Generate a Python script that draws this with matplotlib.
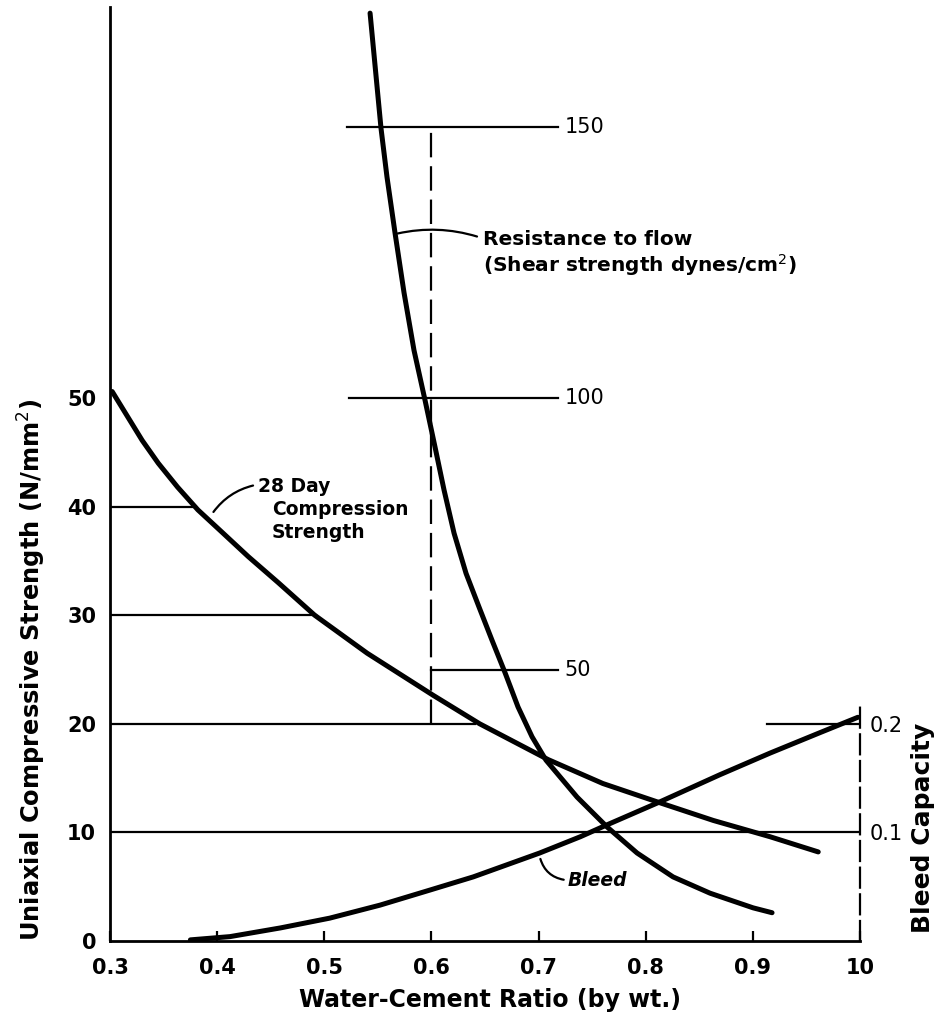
import numpy as np
import matplotlib
matplotlib.use("Agg")
from matplotlib import pyplot as plt

plt.rcParams['font.family'] = ['DejaVu Sans']

# water-cement ratio axis
xticks = [0.3, 0.4, 0.5, 0.6, 0.7, 0.8, 0.9, 1.0]
xticklabels = ['0.3', '0.4', '0.5', '0.6', '0.7', '0.8', '0.9', '10']

# 28 day compression strength (N/mm2)
comp_x = [0.302, 0.330, 0.345, 0.363, 0.382, 0.405, 0.429, 0.457, 0.491,
          0.540, 0.602, 0.645, 0.709, 0.760, 0.811, 0.863, 0.916, 0.961]
comp_y = [50.6, 46.1, 44.0, 41.8, 39.7, 37.6, 35.4, 33.0, 30.0,
          26.5, 22.6, 20.0, 16.7, 14.5, 12.8, 11.1, 9.6, 8.2]

# resistance to flow (shear strength dynes/cm2)
shear_x = [0.5427, 0.5529, 0.5585, 0.5660, 0.5744, 0.5837, 0.5940, 0.6033,
           0.6117, 0.6211, 0.6323, 0.6444, 0.6565, 0.6687, 0.6808, 0.6939, 0.7069,
           0.7359, 0.7639, 0.7919, 0.8255, 0.8600, 0.9002, 0.9179]
shear_y = [170.9, 149.7, 140.7, 130.4, 119.4, 108.8, 99.6, 91.0,
           83.1, 75.1, 67.7, 61.5, 55.4, 49.4, 43.1, 37.6, 33.3,
           26.5, 21.0, 16.2, 11.8, 8.8, 6.1, 5.2]

# bleed capacity
bleed_x = [0.375, 0.412, 0.459, 0.505, 0.552, 0.599, 0.639, 0.701, 0.739, 0.764,
           0.813, 0.869, 0.916, 0.963, 0.998]
bleed_y = [0.001, 0.004, 0.012, 0.021, 0.033, 0.047, 0.059, 0.081, 0.096, 0.107,
           0.128, 0.153, 0.173, 0.192, 0.206]

# guide lines
strength_levels = [10, 20, 30, 40]
strength_line_end = [1.0, 0.641, 0.492, 0.38]
shear_levels = [150, 100, 50]
shear_line_start = [0.521, 0.523, 0.6]
shear_line_end = [0.718, 0.718, 0.718]

fig = plt.figure(figsize=(9.43, 10.23), dpi=100)
ax = fig.add_axes([0.1167, 0.0802, 0.7953, 0.9128])
ax2 = ax.twinx()
ax3 = ax.twinx()

ax.set_xlim(0.3, 1.0)
ax.set_ylim(0, 86)
ax2.set_ylim(0, 0.86)
ax3.set_ylim(0, 172)

lw_thick = 3.6
lw_thin = 1.6

ax.plot(comp_x, comp_y, color='k', lw=lw_thick, solid_capstyle='round', solid_joinstyle='round')
ax3.plot(shear_x, shear_y, color='k', lw=lw_thick, solid_capstyle='round', solid_joinstyle='round')
ax2.plot(bleed_x, bleed_y, color='k', lw=lw_thick, solid_capstyle='round', solid_joinstyle='round')

for lev, xe in zip(strength_levels, strength_line_end):
    ax.plot([0.3, xe], [lev, lev], color='k', lw=lw_thin)
for lev, xs, xe in zip(shear_levels, shear_line_start, shear_line_end):
    ax3.plot([xs, xe], [lev, lev], color='k', lw=lw_thin)
    ax3.text(xe + 0.006, lev, str(lev), fontsize=15, va='center', ha='left')
ax2.plot([0.913, 1.0], [0.2, 0.2], color='k', lw=lw_thin)

# dashed vertical at w/c 0.6 from 20 N/mm2 up to 150 dynes/cm2
ax.plot([0.6, 0.6], [20, 75], color='k', lw=lw_thin, dashes=(11, 4))

# spines
for a in (ax, ax2, ax3):
    for s in a.spines.values():
        s.set_visible(False)
ax.spines['left'].set_visible(True)
ax.spines['left'].set_linewidth(lw_thin + 0.4)
ax.spines['bottom'].set_visible(True)
ax.spines['bottom'].set_linewidth(lw_thin + 0.4)
ax2.spines['right'].set_visible(True)
ax2.spines['right'].set_bounds(0, 0.22)
ax2.spines['right'].set_linewidth(lw_thin)
ax2.spines['right'].set_linestyle((0, (9, 3)))

ax.set_xticks(xticks)
ax.set_xticklabels(xticklabels, fontsize=15, fontweight='bold')
ax.tick_params(axis='x', direction='in', length=7, width=1.6, pad=12)
ax.set_yticks([0, 10, 20, 30, 40, 50])
ax.set_yticklabels(['0', '10', '20', '30', '40', '50'], fontsize=15, fontweight='bold')
ax.tick_params(axis='y', length=0, pad=10)
ax2.set_yticks([0.1, 0.2])
ax2.set_yticklabels(['0.1', '0.2'], fontsize=15)
ax2.tick_params(axis='y', length=0, pad=7)
ax3.set_yticks([])

# annotations
ax3.annotate('', xy=(0.566, 130.2), xytext=(0.645, 129.6),
             arrowprops=dict(arrowstyle='-', lw=lw_thin, connectionstyle='arc3,rad=0.14'))
ax3.text(0.648, 126.5, 'Resistance to flow\n(Shear strength dynes/cm$^2$)',
         fontsize=14.5, fontweight='bold', va='center', ha='left', linespacing=1.15)

ax.annotate('', xy=(0.395, 39.3), xytext=(0.436, 42.0),
            arrowprops=dict(arrowstyle='-', lw=lw_thin, connectionstyle='arc3,rad=0.2'))
ax.text(0.438, 41.9, '28 Day', fontsize=13.5, fontweight='bold', va='center', ha='left')
ax.text(0.451, 39.7, 'Compression', fontsize=13.5, fontweight='bold', va='center', ha='left')
ax.text(0.451, 37.6, 'Strength', fontsize=13.5, fontweight='bold', va='center', ha='left')

ax.annotate('', xy=(0.701, 7.8), xytext=(0.726, 5.6),
            arrowprops=dict(arrowstyle='-', lw=lw_thin, connectionstyle='arc3,rad=-0.35'))
ax.text(0.727, 5.6, 'Bleed', fontsize=13.5, fontweight='bold', fontstyle='italic',
        va='center', ha='left')

fig.text(0.034, 0.345, 'Uniaxial Compressive Strength (N/mm$^2$)', rotation=90,
         fontsize=17.4, fontweight='bold', ha='center', va='center')
fig.text(0.520, 0.022, 'Water-Cement Ratio (by wt.)', fontsize=17, fontweight='bold',
         ha='center', va='center')
fig.text(0.979, 0.191, 'Bleed Capacity', rotation=90, fontsize=18, fontweight='bold',
         ha='center', va='center')

fig.savefig('out.png', dpi=100)
